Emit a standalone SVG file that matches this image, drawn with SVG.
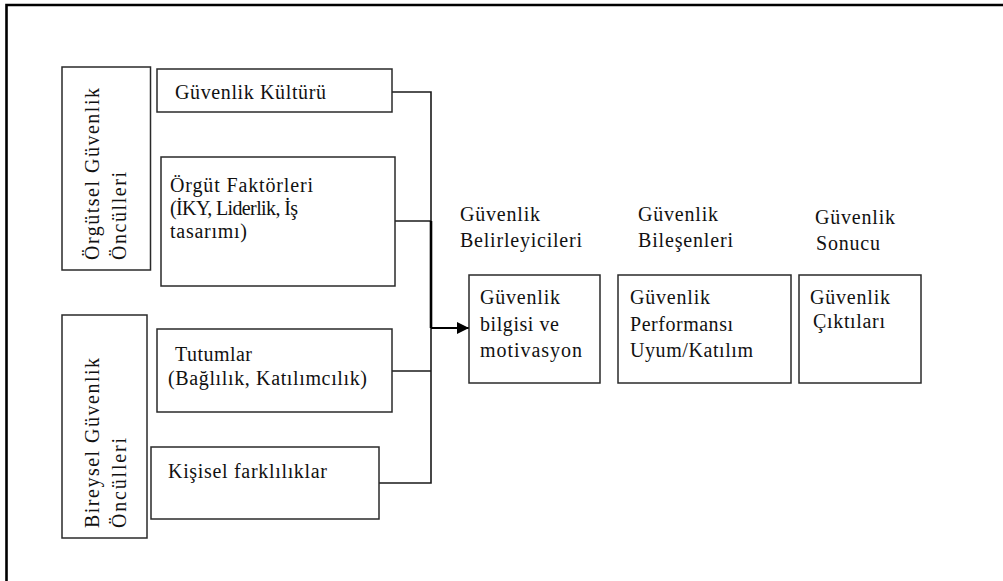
<svg xmlns="http://www.w3.org/2000/svg" width="1003" height="581" viewBox="0 0 1003 581">
<defs>
<style>
.box{fill:#fff;stroke:#2a2a2a;stroke-width:1.5}
.t{font-family:"Liberation Serif","Times New Roman",serif;font-size:20px;fill:#111}
.c{fill:none;stroke:#1a1a1a;stroke-width:1.6}
</style>
<marker id="ah" viewBox="0 0 10 10" refX="10" refY="5" markerWidth="13" markerHeight="12" markerUnits="userSpaceOnUse" orient="auto">
<path d="M0,0 L10,5 L0,10 Z" fill="#000"/>
</marker>
</defs>
<rect width="1003" height="581" fill="#fff"/>
<g id="frame">
<path d="M6.5,581 V5 H1003" fill="none" stroke="#000" stroke-width="2.6"/>
</g>
<g id="connectors">
<path class="c" d="M392,92 H431 V483 H379"/>
<path class="c" d="M395,221 H431"/>
<path class="c" d="M392,371 H431"/>
<path d="M431,221 V328" stroke="#000" stroke-width="2.6" fill="none"/>
<path d="M431,328 H469" stroke="#000" stroke-width="2" fill="none" marker-end="url(#ah)"/>
</g>
<g id="orgutsel">
<rect class="box" x="62" y="67" width="88.5" height="203"/>
<text class="t" transform="translate(99,260) rotate(-90)" textLength="172" lengthAdjust="spacing">Örgütsel Güvenlik</text>
<text class="t" transform="translate(126,260) rotate(-90)" textLength="88" lengthAdjust="spacing">Öncülleri</text>
</g>
<g id="kultur">
<rect class="box" x="157" y="69" width="235" height="43"/>
<text class="t" x="175" y="99" textLength="151" lengthAdjust="spacing">Güvenlik Kültürü</text>
</g>
<g id="faktorler">
<rect class="box" x="161" y="157" width="234" height="129"/>
<text class="t" x="170" y="192" textLength="143" lengthAdjust="spacing">Örgüt Faktörleri</text>
<text class="t" x="170" y="215" textLength="128" lengthAdjust="spacing">(İKY, Liderlik, İş</text>
<text class="t" x="170" y="238" textLength="77" lengthAdjust="spacing">tasarımı)</text>
</g>
<g id="bireysel">
<rect class="box" x="62" y="315" width="85" height="223"/>
<text class="t" transform="translate(99,528) rotate(-90)" textLength="170" lengthAdjust="spacing">Bireysel Güvenlik</text>
<text class="t" transform="translate(126,528) rotate(-90)" textLength="90" lengthAdjust="spacing">Öncülleri</text>
</g>
<g id="tutumlar">
<rect class="box" x="157" y="329" width="235" height="83"/>
<text class="t" x="175" y="361" textLength="77" lengthAdjust="spacing">Tutumlar</text>
<text class="t" x="168" y="385" textLength="199" lengthAdjust="spacing">(Bağlılık, Katılımcılık)</text>
</g>
<g id="kisisel">
<rect class="box" x="151" y="447" width="228" height="72"/>
<text class="t" x="168" y="478" textLength="159" lengthAdjust="spacing">Kişisel farklılıklar</text>
</g>
<g id="header-belirleyiciler">
<text class="t" x="460" y="221" textLength="80" lengthAdjust="spacing">Güvenlik</text>
<text class="t" x="460" y="247" textLength="122" lengthAdjust="spacing">Belirleyicileri</text>
</g>
<g id="header-bilesenler">
<text class="t" x="638" y="221" textLength="80" lengthAdjust="spacing">Güvenlik</text>
<text class="t" x="638" y="247" textLength="95" lengthAdjust="spacing">Bileşenleri</text>
</g>
<g id="header-sonuc">
<text class="t" x="815" y="224" textLength="80" lengthAdjust="spacing">Güvenlik</text>
<text class="t" x="816" y="250" textLength="64" lengthAdjust="spacing">Sonucu</text>
</g>
<g id="bilgi">
<rect class="box" x="469" y="275" width="131" height="108"/>
<text class="t" x="480" y="304" textLength="80" lengthAdjust="spacing">Güvenlik</text>
<text class="t" x="480" y="331" textLength="79" lengthAdjust="spacing">bilgisi ve</text>
<text class="t" x="480" y="357" textLength="102" lengthAdjust="spacing">motivasyon</text>
</g>
<g id="performans">
<rect class="box" x="618" y="275" width="173" height="108"/>
<text class="t" x="630" y="304" textLength="80" lengthAdjust="spacing">Güvenlik</text>
<text class="t" x="630" y="331" textLength="103" lengthAdjust="spacing">Performansı</text>
<text class="t" x="630" y="357" textLength="123" lengthAdjust="spacing">Uyum/Katılım</text>
</g>
<g id="ciktilar">
<rect class="box" x="799" y="275" width="122" height="108"/>
<text class="t" x="810" y="304" textLength="80" lengthAdjust="spacing">Güvenlik</text>
<text class="t" x="813" y="328" textLength="72" lengthAdjust="spacing">Çıktıları</text>
</g>
</svg>
